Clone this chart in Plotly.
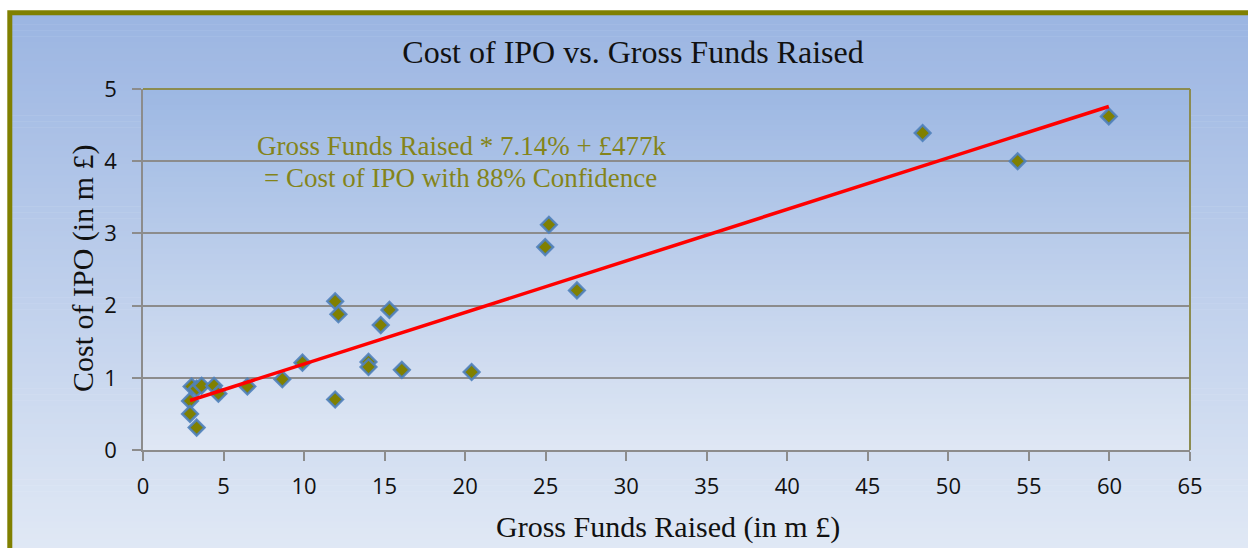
import numpy as np
import plotly.graph_objects as go

# ---- data ----
gross_funds = [3.02, 3.33, 3.64, 4.41, 4.68, 2.92, 2.92, 3.33, 6.48, 8.65, 9.90,
               11.93, 12.13, 11.93, 15.30, 14.76, 14.00, 14.00, 16.07, 20.40,
               25.20, 24.97, 26.94, 48.40, 54.30, 59.96]
ipo_cost = [0.88, 0.85, 0.89, 0.89, 0.78, 0.68, 0.50, 0.31, 0.88, 0.98, 1.21,
            2.06, 1.88, 0.70, 1.94, 1.73, 1.22, 1.15, 1.11, 1.08,
            3.12, 2.81, 2.21, 4.39, 4.00, 4.62]
trend_slope = 0.0714
trend_intercept = 0.477
x_ticks = list(range(0, 66, 5))
y_ticks = [0, 1, 2, 3, 4, 5]

W, H = 1248, 548
L, R, T, B = 143, 1190, 89, 450


def px(x):
    return (x - L) / (R - L)


def py(y):
    return (B - y) / (B - T)


def lerp(c1, c2, t):
    a = [int(c1[i:i + 2], 16) for i in (1, 3, 5)]
    b = [int(c2[i:i + 2], 16) for i in (1, 3, 5)]
    return "rgb(%d,%d,%d)" % tuple(round(a[k] + (b[k] - a[k]) * t) for k in range(3))


shapes = []
# outer gradient
n = 90
y0o, y1o = 12, H + 10
for i in range(n):
    ya = y0o + (y1o - y0o) * i / n
    yb = y0o + (y1o - y0o) * (i + 1) / n + 0.6
    shapes.append(dict(type="rect", xref="paper", yref="paper", layer="below",
                       x0=px(10), x1=px(W + 20), y0=py(yb), y1=py(ya),
                       fillcolor=lerp("#9bb5e2", "#e1e9f5", i / (n - 1)),
                       line=dict(width=0)))
# plot-area gradient
m = 70
for i in range(m):
    ya = T + (B - T) * i / m
    yb = T + (B - T) * (i + 1) / m + 0.6
    shapes.append(dict(type="rect", xref="paper", yref="paper", layer="below",
                       x0=0, x1=1, y0=py(yb), y1=py(ya),
                       fillcolor=lerp("#9db8e3", "#dfe7f4", i / (m - 1)),
                       line=dict(width=0)))
# outer olive border
shapes.append(dict(type="rect", xref="paper", yref="paper",
                   x0=px(9.8), x1=px(W + 40), y0=py(H + 40), y1=py(12.8),
                   line=dict(color="#808000", width=5), fillcolor="rgba(0,0,0,0)",
                   layer="above"))
# plot area top/right border
shapes.append(dict(type="line", xref="paper", yref="paper", x0=0, x1=1, y0=1, y1=1,
                   line=dict(color="#8c8c50", width=2), layer="above"))
shapes.append(dict(type="line", xref="paper", yref="paper", x0=1, x1=1, y0=0, y1=1,
                   line=dict(color="#8c8c50", width=2), layer="above"))

xs_line = np.array([min(gross_funds), max(gross_funds)])
ys_line = trend_slope * xs_line + trend_intercept

fig = go.Figure()
fig.add_trace(go.Scatter(
    x=gross_funds, y=ipo_cost, mode="markers",
    marker=dict(symbol="diamond", size=12, color="#808000",
                line=dict(color="rgba(79,129,189,0.9)", width=2.5)),
    showlegend=False, cliponaxis=False))
fig.add_trace(go.Scatter(
    x=xs_line, y=ys_line, mode="lines",
    line=dict(color="#ff0000", width=3.5), showlegend=False))

serif = "Liberation Serif, Times New Roman, serif"
sans = "Open Sans, Liberation Sans, sans-serif"
txt = "#111111"
ann_col = "#84841a"

fig.update_layout(
    width=W, height=H,
    margin=dict(l=L, r=W - R, t=T, b=H - B),
    paper_bgcolor="white", plot_bgcolor="rgba(0,0,0,0)",
    shapes=shapes,
    title=dict(text="Cost of IPO vs. Gross Funds Raised", x=633 / W, xanchor="center",
               y=1 - 52 / H, yanchor="middle", font=dict(family=serif, size=32, color=txt)),
    xaxis=dict(range=[0, 65], tickvals=x_ticks, showgrid=False, zeroline=False,
               showline=True, linecolor="#8c8c8c", linewidth=1.5,
               ticks="outside", ticklen=9, tickcolor="#8c8c8c", tickwidth=1.5,
               tickfont=dict(family=sans, size=22, color=txt), ticklabelstandoff=7),
    yaxis=dict(range=[0, 5], tickvals=y_ticks, showgrid=True, gridcolor="#8c8c8c",
               gridwidth=1.5, zeroline=False,
               showline=True, linecolor="#8c8c8c", linewidth=1.5,
               ticks="outside", ticklen=9, tickcolor="#8c8c8c", tickwidth=1.5,
               tickfont=dict(family=sans, size=22, color=txt), ticklabelstandoff=11),
    annotations=[
        dict(text="Gross Funds Raised (in m £)", xref="paper", yref="paper",
             x=px(668), y=py(527), showarrow=False, xanchor="center", yanchor="middle",
             font=dict(family=serif, size=30, color=txt)),
        dict(text="Cost of IPO (in m £)", xref="paper", yref="paper", textangle=-90,
             x=px(83), y=py(268), showarrow=False, xanchor="center", yanchor="middle",
             font=dict(family=serif, size=30, color=txt)),
        dict(text="Gross Funds Raised * 7.14% + £477k", xref="paper", yref="paper",
             x=px(461), y=py(146), showarrow=False, xanchor="center", yanchor="middle",
             font=dict(family=serif, size=27, color=ann_col)),
        dict(text="= Cost of IPO with 88% Confidence", xref="paper", yref="paper",
             x=px(460), y=py(178), showarrow=False, xanchor="center", yanchor="middle",
             font=dict(family=serif, size=27, color=ann_col)),
    ],
)

fig.write_html("out.html", config={"displayModeBar": False},
               post_script="document.body.style.margin='0';"
                           "document.documentElement.style.overflow='hidden';")
